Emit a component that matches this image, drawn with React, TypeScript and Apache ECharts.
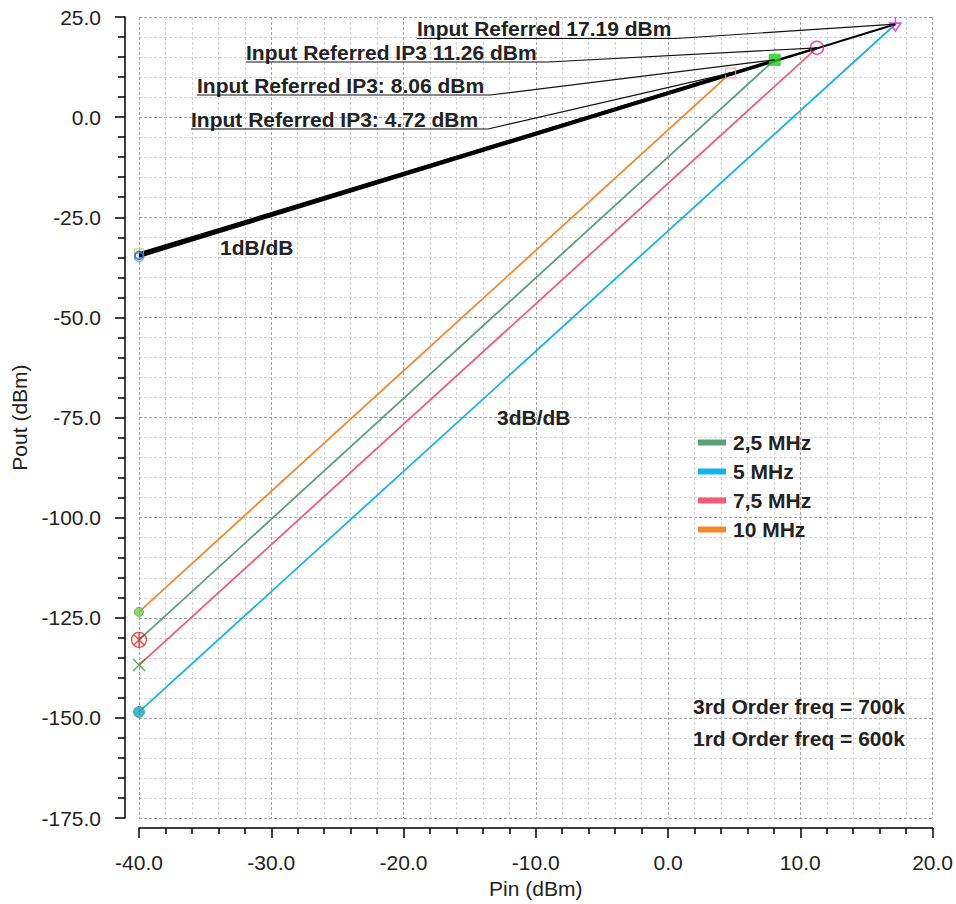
import React, { useEffect, useRef } from "react";
import * as echarts from "echarts";

// ---- data ----
const freqs = ["2,5 MHz", "5 MHz", "7,5 MHz", "10 MHz"];
const colors = ["#5aa17a", "#12b4ea", "#ef5a78", "#f5862a"];
const pinStart = -40;
const iip3 = [8.06, 17.19, 11.26, 4.72]; // Pin at intercept (dBm)
const oip3 = [14.3, 23.2, 17.3, 11.0]; // Pout at intercept (dBm)
const fundStart = [-34.0, -34.9, -34.5, -34.2]; // fundamental Pout at Pin=-40
const im3Start = [-130.5, -148.5, -136.8, -123.5]; // 3rd-order Pout at Pin=-40
const annotTexts = [
  "Input Referred IP3: 8.06 dBm",
  "Input Referred 17.19 dBm",
  "Input Referred IP3 11.26 dBm",
  "Input Referred IP3: 4.72 dBm",
];
const xTicks = { min: -40, max: 20, step: 10 };
const yTicks = { min: -175, max: 25, step: 25 };

// layout of annotation labels (pixels): [textLeft, textCenterY, underlineY, leaderStartX]
const annotLayout = [
  [197, 86, 95, 490],
  [417, 29.5, 38.5, 676],
  [246, 53.5, 62, 548],
  [191, 120.5, 129, 488],
];

export default function App() {
  const ref = useRef<HTMLDivElement>(null);
  useEffect(() => {
    if (!ref.current) return;
    const chart = echarts.init(ref.current, null, { renderer: "svg" });
    const font = "Liberation Sans, Arial, Helvetica, sans-serif";
    const FS = 21;

    const im3Series = freqs.map((f, i) => ({
      name: f,
      type: "line",
      data: [
        [pinStart, im3Start[i]],
        [iip3[i], oip3[i]],
      ],
      showSymbol: false,
      symbol: "none",
      lineStyle: { color: colors[i], width: 1.8 },
      itemStyle: { color: colors[i] },
      z: 2,
    }));
    const fundSeries = freqs.map((f, i) => ({
      name: "fund " + f,
      type: "line",
      data: [
        [pinStart, fundStart[i]],
        [iip3[i], oip3[i]],
      ],
      symbol: "none",
      lineStyle: { color: "#000", width: 2 },
      z: 3,
    }));

    const mk = (
      x: number,
      y: number,
      symbol: string,
      size: number | number[],
      fill: string,
      border: string,
      bw: number
    ) => ({
      type: "scatter",
      data: [[x, y]],
      symbol,
      symbolSize: size,
      itemStyle: { color: fill, borderColor: border, borderWidth: bw },
      z: 5,
      silent: true,
    });

    const markers = [
      // left-end fundamental
      mk(pinStart, fundStart[0], "rect", 9, "none", "#c9c94a", 1.2),
      mk(pinStart, fundStart[1], "circle", 9, "none", "#28b8e0", 1.5),
      mk(pinStart, fundStart[2], "circle", 8, "none", "#2050e0", 1.5),
      // left-end third order
      mk(pinStart, im3Start[3], "circle", 9, "#7ccc55", "#5aaa3a", 1),
      mk(
        pinStart,
        im3Start[0],
        "path://M-7,0 A7,7 0 1 0 7,0 A7,7 0 1 0 -7,0 Z M-5,-5 L5,5 M-5,5 L5,-5 M0,-7 L0,7",
        15,
        "none",
        "#e02020",
        1.4
      ),
      mk(pinStart, im3Start[2], "path://M0,0 L10,10 M0,10 L10,0", 12, "none", "#2a962a", 1.4),
      mk(pinStart, im3Start[1], "circle", 11, "#1aa6b4", "#1aa6b4", 1),
      // intercept markers
      mk(iip3[3], oip3[3], "rect", 10, "none", "#f0a0a0", 1.4),
      mk(iip3[0], oip3[0], "rect", 11, "#1fd01f", "#1fd01f", 1),
      mk(iip3[2], oip3[2], "circle", 13, "none", "#e0208a", 1.5),
      mk(iip3[1], oip3[1], "path://M0,0 L0,6 M-5,6 L5,6 L0,14 Z", [11, 14], "none", "#e020e0", 1.6),
    ];

    const axisCommon = {
      type: "value",
      nameLocation: "middle",
      nameTextStyle: { fontSize: FS, color: "#222", fontFamily: font },
      axisLine: { show: true, onZero: false, lineStyle: { color: "#000", width: 1.5 } },
      axisTick: { show: true, length: 10, lineStyle: { color: "#000", width: 1.5 } },
      axisLabel: {
        fontSize: FS,
        color: "#222",
        margin: 24,
        formatter: (v: number) => v.toFixed(1),
      },
      splitLine: { show: true, lineStyle: { color: "#a4a4a4", type: [3, 2], width: 1 } },
      minorSplitLine: { show: true, lineStyle: { color: "#d4d4d4", type: [3, 2], width: 1 } },
    };

    const option: any = {
      animation: false,
      backgroundColor: "#fff",
      textStyle: { fontFamily: font },
      grid: { left: 139, right: 21, top: 17, bottom: 83, containLabel: false },
      legend: {
        data: freqs.map((f) => ({ name: f, icon: "rect" })),
        orient: "vertical",
        left: 693,
        top: 427,
        itemWidth: 28,
        itemHeight: 6,
        itemGap: 8,
        textStyle: { fontSize: FS, fontWeight: "bold", color: "#222", fontFamily: font, padding: [0, 0, 0, 2] },
      },
      xAxis: {
        ...axisCommon,
        min: xTicks.min,
        max: xTicks.max,
        interval: xTicks.step,
        offset: 10,
        name: "Pin (dBm)",
        nameGap: 44,
        minorTick: { show: true, splitNumber: 5, length: 6, lineStyle: { color: "#000", width: 1.5 } },
      },
      yAxis: {
        ...axisCommon,
        min: yTicks.min,
        max: yTicks.max,
        interval: yTicks.step,
        offset: 14,
        name: "Pout (dBm)",
        nameGap: 95,
        minorTick: { show: true, splitNumber: 5, length: 7, lineStyle: { color: "#000", width: 1.5 } },
      },
      series: [...im3Series, ...fundSeries, ...markers],
    };
    chart.setOption(option);

    const g: any[] = [];
    annotTexts.forEach((t, i) => {
      const [tx, ty, uy, lx] = annotLayout[i];
      const p = chart.convertToPixel({ gridIndex: 0 }, [iip3[i], oip3[i]]) as number[];
      g.push({
        type: "text",
        left: tx,
        top: ty - 11.5,
        style: { text: t, fontSize: FS, fontWeight: "bold", fill: "#222", fontFamily: font },
        z: 10,
      });
      g.push({
        type: "polyline",
        shape: { points: [[tx, uy], [lx, uy], [p[0], p[1]]] },
        style: { stroke: "#111", lineWidth: 1.2, fill: "none" },
        z: 10,
      });
    });
    const extraTexts = [
      { t: "1dB/dB", x: 220, y: 248 },
      { t: "3dB/dB", x: 497, y: 418 },
      { t: "3rd Order freq = 700k", x: 693, y: 707 },
      { t: "1rd Order freq = 600k", x: 693, y: 739 },
    ];
    extraTexts.forEach((e) =>
      g.push({
        type: "text",
        left: e.x,
        top: e.y - 11.5,
        style: { text: e.t, fontSize: FS, fontWeight: "bold", fill: "#222", fontFamily: font },
        z: 10,
      })
    );
    chart.setOption({ graphic: g });

    return () => chart.dispose();
  }, []);
  return (
    <div
      ref={ref}
      style={{ position: "fixed", left: 0, top: 0, width: 956, height: 904, background: "#fff" }}
    />
  );
}
